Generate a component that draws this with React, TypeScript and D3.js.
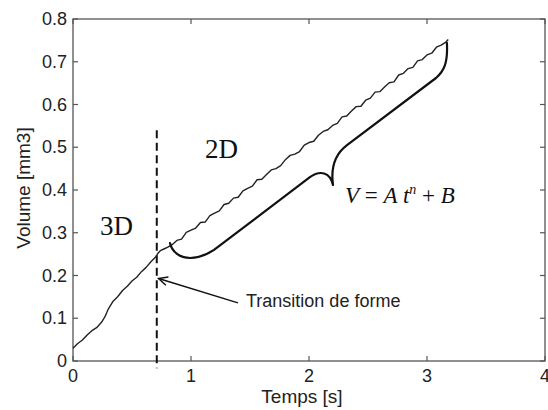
import React from 'react';
import * as d3 from 'd3';

// time [s] and volume [mm3]
const timeS = [
  0, 0.04, 0.08, 0.12, 0.16, 0.2, 0.24, 0.27, 0.3, 0.34, 0.38, 0.42, 0.46, 0.5, 0.54, 0.58, 0.62, 0.66,
  0.7, 0.72, 0.74, 0.77, 0.8, 0.84, 0.88, 0.92, 0.96, 1.0, 1.04, 1.08, 1.12, 1.16, 1.2, 1.24, 1.28,
  1.32, 1.36, 1.4, 1.44, 1.48, 1.52, 1.56, 1.6, 1.64, 1.68, 1.72, 1.76, 1.8, 1.84, 1.88, 1.92, 1.96,
  2.0, 2.04, 2.08, 2.12, 2.16, 2.2, 2.24, 2.28, 2.32, 2.36, 2.4, 2.44, 2.48, 2.52, 2.56, 2.6, 2.64,
  2.68, 2.72, 2.76, 2.8, 2.84, 2.88, 2.92, 2.96, 3.0, 3.04, 3.08, 3.12, 3.16, 3.18,
];
const volumeMm3 = [
  0.030, 0.041, 0.049, 0.061, 0.071, 0.078, 0.090, 0.103, 0.122, 0.140, 0.151, 0.165, 0.175, 0.187,
  0.196, 0.209, 0.219, 0.232, 0.243, 0.252, 0.258, 0.262, 0.266, 0.272, 0.282, 0.285, 0.301, 0.306,
  0.311, 0.324, 0.325, 0.340, 0.346, 0.351, 0.366, 0.369, 0.381, 0.383, 0.398, 0.404, 0.409, 0.424,
  0.425, 0.436, 0.447, 0.450, 0.457, 0.471, 0.481, 0.484, 0.490, 0.505, 0.511, 0.514, 0.528, 0.537,
  0.541, 0.551, 0.556, 0.571, 0.573, 0.585, 0.595, 0.596, 0.610, 0.615, 0.629, 0.630, 0.641, 0.651,
  0.653, 0.669, 0.673, 0.684, 0.687, 0.702, 0.705, 0.716, 0.720, 0.734, 0.739, 0.746, 0.752,
];

const xTicks = [0, 1, 2, 3, 4];
const yTicks = [0, 0.1, 0.2, 0.3, 0.4, 0.5, 0.6, 0.7, 0.8];

// transition time and the dashed marker extent
const transitionT = 0.71;
const dashedV = [0.54, -0.017];

// curly brace over the 2D part, [t, v] points
const braceStart = [0.822, 0.276];
const braceCurves = [
  ['C', [0.839, 0.255], [0.907, 0.241], [0.992, 0.241]],
  ['C', [1.059, 0.241], [1.119, 0.246], [1.195, 0.26]],
  ['L', [2.008, 0.43]],
  ['C', [2.093, 0.447], [2.178, 0.442], [2.203, 0.412]],
  ['C', [2.186, 0.447], [2.212, 0.482], [2.322, 0.505]],
  ['L', [3.076, 0.662]],
  ['C', [3.144, 0.678], [3.178, 0.697], [3.169, 0.744]],
] as any[];

// annotation arrow: tail and tip
const arrowTail = [1.398, 0.136];
const arrowTip = [0.725, 0.193];

const W = 548;
const H = 410;
const margin = { top: 19, right: 3, bottom: 49, left: 73 };
const sans = 'Arial, "Liberation Sans", Helvetica, sans-serif';
const serif = '"Times New Roman", "Liberation Serif", serif';
const axisCol = '#555';

export default function App() {
  const x = d3.scaleLinear().domain([0, 4]).range([margin.left, W - margin.right]);
  const y = d3.scaleLinear().domain([0, 0.8]).range([H - margin.bottom, margin.top]);

  const pts = timeS.map((t, i) => [t, volumeMm3[i]] as [number, number]);
  const line = d3.line<[number, number]>().x(d => x(d[0])).y(d => y(d[1]));

  const p = (q: number[]) => `${x(q[0]).toFixed(1)},${y(q[1]).toFixed(1)}`;
  let brace = `M${p(braceStart)}`;
  braceCurves.forEach(seg => {
    brace += seg[0] + seg.slice(1).map(p).join(' ');
  });

  const x0 = x(0), x1 = x(4), y0 = y(0), y1 = y(0.8);
  const tick = 5;

  // arrowhead
  const tx = x(arrowTip[0]), ty = y(arrowTip[1]);
  const ang = Math.atan2(y(arrowTail[1]) - ty, x(arrowTail[0]) - tx);
  const hl = 10, ha = 0.45;
  const head = `M${tx + hl * Math.cos(ang - ha)},${ty + hl * Math.sin(ang - ha)}L${tx},${ty}L${tx + hl * Math.cos(ang + ha)},${ty + hl * Math.sin(ang + ha)}`;

  return (
    <div style={{ position: 'fixed', left: 0, top: 0 }}>
      <svg width={W} height={H} style={{ display: 'block', background: '#fff' }}>
        {/* box and ticks */}
        <rect x={x0} y={y1} width={x1 - x0} height={y0 - y1} fill="none" stroke={axisCol} strokeWidth={1.3} />
        {xTicks.map(t => (
          <g key={'xt' + t}>
            <line x1={x(t)} x2={x(t)} y1={y0} y2={y0 - tick} stroke={axisCol} strokeWidth={1.2} />
            <line x1={x(t)} x2={x(t)} y1={y1} y2={y1 + tick} stroke={axisCol} strokeWidth={1.2} />
            <text x={x(t)} y={y0 + 21} textAnchor="middle" fontFamily={sans} fontSize={18} fill="#222">
              {t}
            </text>
          </g>
        ))}
        {yTicks.map(v => (
          <g key={'yt' + v}>
            <line x1={x0} x2={x0 + tick} y1={y(v)} y2={y(v)} stroke={axisCol} strokeWidth={1.2} />
            <line x1={x1} x2={x1 - tick} y1={y(v)} y2={y(v)} stroke={axisCol} strokeWidth={1.2} />
            <text x={x0 - 6} y={y(v) + 6} textAnchor="end" fontFamily={sans} fontSize={18} fill="#222">
              {v === 0 ? '0' : v.toFixed(1)}
            </text>
          </g>
        ))}
        <text x={302} y={403} textAnchor="middle" fontFamily={sans} fontSize={19} fill="#222">
          Temps [s]
        </text>
        <text transform={`translate(30,${188}) rotate(-90)`} textAnchor="middle" fontFamily={sans} fontSize={19} fill="#222">
          Volume [mm3]
        </text>

        {/* dashed transition marker */}
        <line
          x1={x(transitionT)} x2={x(transitionT)} y1={y(dashedV[0])} y2={y(dashedV[1])}
          stroke="#111" strokeWidth={2} strokeDasharray="8,4.5"
        />

        {/* measured curve */}
        <path d={line(pts) || ''} fill="none" stroke="#222" strokeWidth={1.4} strokeLinejoin="round" />

        {/* brace */}
        <path d={brace} fill="none" stroke="#111" strokeWidth={2.2} strokeLinecap="round" strokeLinejoin="round" />

        {/* arrow */}
        <line x1={x(arrowTail[0])} y1={y(arrowTail[1])} x2={tx} y2={ty} stroke="#111" strokeWidth={1.5} />
        <path d={head} fill="none" stroke="#111" strokeWidth={1.5} />

        {/* labels */}
        <text x={100} y={235} fontFamily={serif} fontSize={27} fill="#111">3D</text>
        <text x={205} y={158} fontFamily={serif} fontSize={27} fill="#111">2D</text>
        <text x={345} y={203} fontFamily={serif} fontSize={23} fontStyle="italic" fill="#111">
          V<tspan fontStyle="normal"> = </tspan>A t<tspan dy={-9} fontSize={14}>n</tspan>
          <tspan dy={9} fontStyle="normal"> + </tspan>B
        </text>
        <text x={246} y={307} fontFamily={sans} fontSize={18} fill="#222">Transition de forme</text>
      </svg>
    </div>
  );
}
